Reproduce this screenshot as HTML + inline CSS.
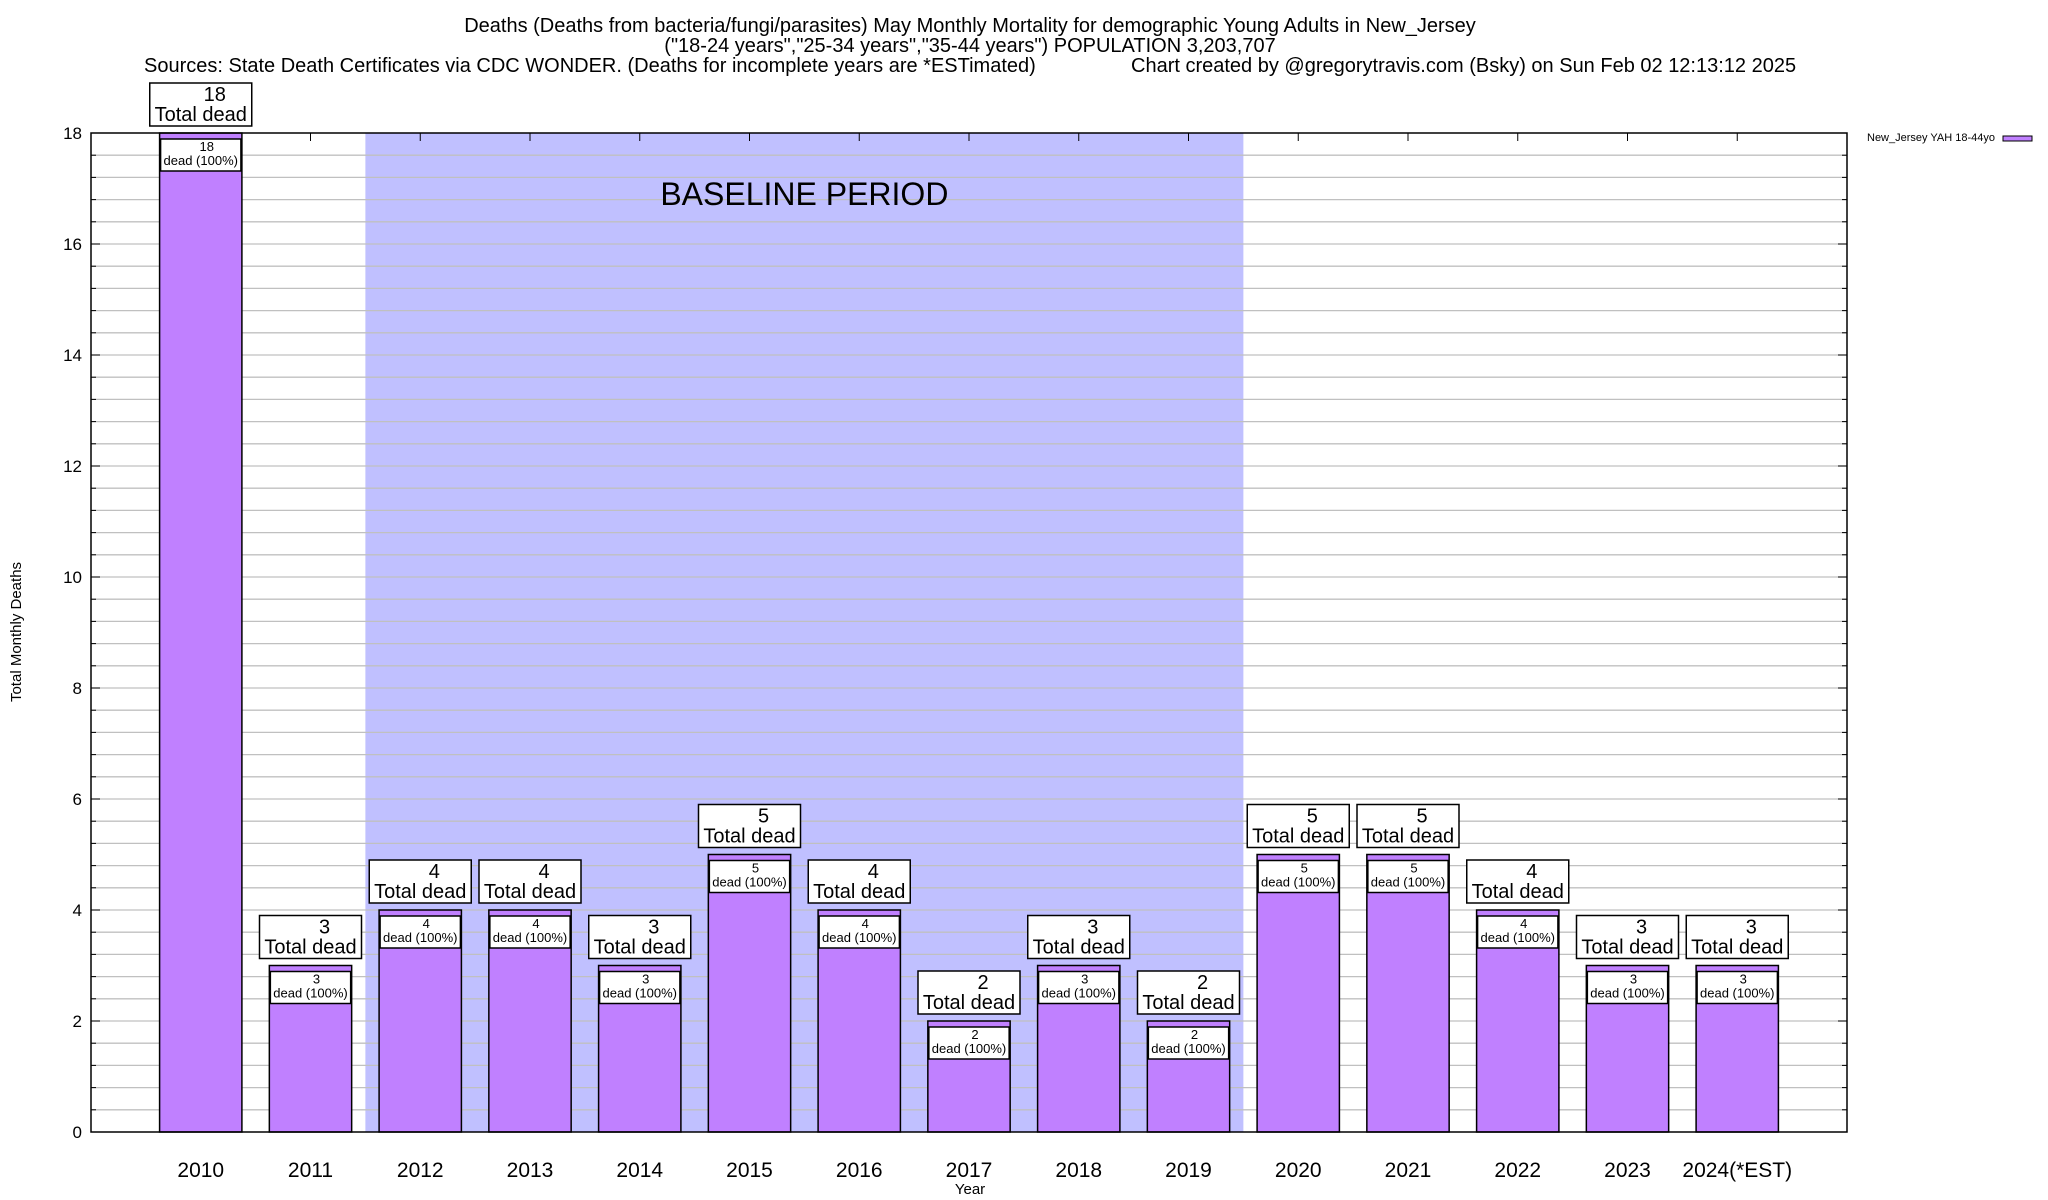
<!DOCTYPE html>
<html><head><meta charset="utf-8"><style>
html,body{margin:0;padding:0;background:#fff;}
svg{display:block;font-family:"Liberation Sans",Arial,sans-serif;}
</style></head><body>
<svg id="chart" width="2048" height="1200" viewBox="0 0 2048 1200" xmlns="http://www.w3.org/2000/svg">
<text x="970" y="32" font-size="20" text-anchor="middle">Deaths (Deaths from bacteria/fungi/parasites) May Monthly Mortality for demographic Young Adults in New_Jersey</text>
<text x="970" y="52" font-size="20" text-anchor="middle">("18-24 years","25-34 years","35-44 years") POPULATION 3,203,707</text>
<text x="144" y="72" font-size="20">Sources: State Death Certificates via CDC WONDER. (Deaths for incomplete years are *ESTimated)</text>
<text x="1131" y="72" font-size="20">Chart created by @gregorytravis.com (Bsky) on Sun Feb 02 12:13:12 2025</text>
<text x="21" y="632" font-size="15" text-anchor="middle" transform="rotate(-90 21 632)">Total Monthly Deaths</text>
<text x="970" y="1194" font-size="15" text-anchor="middle">Year</text>
<g>
<text x="1995" y="141" font-size="11" text-anchor="end">New_Jersey YAH 18-44yo</text>
<rect x="2003" y="136" width="29" height="5" fill="#c080ff" stroke="#000" stroke-width="1"/>
</g>
<g id="plot"></g>
</svg>
<script>
const categories = ["2010","2011","2012","2013","2014","2015","2016","2017","2018","2019","2020","2021","2022","2023","2024(*EST)"];
const deaths = [18,3,4,4,3,5,4,2,3,2,5,5,4,3,3];
const yTicks = [0,2,4,6,8,10,12,14,16,18];
const baselineRange = [1.5, 9.5];

const L=91,R=1847,T=133,B=1132;
const xMin=-1,xMax=15,yMin=0,yMax=18;
const xs=v=>L+(v-xMin)/(xMax-xMin)*(R-L);
const ys=v=>B-(v-yMin)/(yMax-yMin)*(B-T);
const NS="http://www.w3.org/2000/svg";
const plot=document.getElementById('plot');
function mk(tag,attrs,parent){const e=document.createElementNS(NS,tag);for(const k in attrs)e.setAttribute(k,attrs[k]);(parent||plot).appendChild(e);return e;}

// baseline shading
const sh=mk('rect',{x:xs(baselineRange[0]),y:T,width:xs(baselineRange[1])-xs(baselineRange[0]),height:B-T,fill:'#c0c0ff'});



// grid (minor every 0.4)
for(let i=1;i<45;i++){const v=i*0.4;const y=ys(v);
 const g=mk('line',{x1:L,x2:R,y1:y,y2:y,stroke:'#c0c0c0','stroke-width':1.3});
 
 
 mk('line',{x1:L,x2:L+5,y1:y,y2:y,stroke:'#000','stroke-width':1});
 mk('line',{x1:R-5,x2:R,y1:y,y2:y,stroke:'#000','stroke-width':1});
}
const bt=mk('text',{x:xs((baselineRange[0]+baselineRange[1])/2),y:205,'font-size':32,'text-anchor':'middle'});
bt.textContent='BASELINE PERIOD';



yTicks.forEach(v=>{const y=ys(v);
 mk('line',{x1:L,x2:L+9,y1:y,y2:y,stroke:'#000','stroke-width':1});
 mk('line',{x1:R-9,x2:R,y1:y,y2:y,stroke:'#000','stroke-width':1});
 const t=mk('text',{x:82,y:y+6,'font-size':17,'text-anchor':'end'});t.textContent=v;
 
 
});

// bars
const bw=0.75;
categories.forEach((c,i)=>{
 const v=deaths[i];const cx=xs(i);const w=bw*(xs(1)-xs(0));const x0=cx-w/2;const yt=ys(v);
 mk('line',{x1:cx,x2:cx,y1:T,y2:T+8,stroke:'#000','stroke-width':1});
 const b=mk('rect',{x:x0,y:yt,width:w,height:B-yt,fill:'#c080ff',stroke:'#000','stroke-width':1.5});
 
 
 const ib=mk('rect',{x:x0+1,y:yt+6,width:w-2,height:32,fill:'#fff',stroke:'#000','stroke-width':1.5});
 
 
 const n1=mk('text',{x:cx+6,y:yt+18,'font-size':13,'text-anchor':'middle'});n1.textContent=v;
 
 
 const n2=mk('text',{x:cx,y:yt+32,'font-size':13,'text-anchor':'middle'});n2.textContent='dead (100%)';
 
 
 const tb=mk('rect',{x:cx-51,y:yt-50,width:102,height:43,fill:'#fff',stroke:'#000','stroke-width':1.5});
 
 
 const t1=mk('text',{x:cx+14,y:yt-32,'font-size':20,'text-anchor':'middle'});t1.textContent=v;
 
 
 const t2=mk('text',{x:cx,y:yt-12,'font-size':20,'text-anchor':'middle'});t2.textContent='Total dead';
 
 
 const xl=mk('text',{x:cx,y:1177,'font-size':21,'text-anchor':'middle'});xl.textContent=c;
 
 
});

const fr=mk('rect',{x:L,y:T,width:R-L,height:B-T,fill:'none',stroke:'#000','stroke-width':1.5});


</script>
</body></html>
